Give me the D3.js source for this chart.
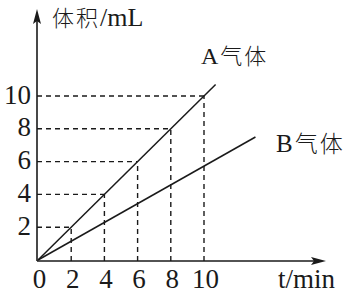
<!DOCTYPE html>
<html>
<head>
<meta charset="utf-8">
<style>
  body { margin: 0; background: #fff; }
  text { fill: #1a1a1a; }
  .num { font-family: "Liberation Serif", "DejaVu Serif", serif; font-size: 27px; }
  .lat { font-family: "Liberation Serif", "DejaVu Serif", serif; }
  .han { font-family: "Noto Sans CJK SC", sans-serif; font-weight: 300; }
</style>
<script src="https://d3js.org/d3.v7.min.js"></script>
</head>
<body>
<svg width="352" height="294"></svg>
<script>
// data
var xTicks = [0, 2, 4, 6, 8, 10];
var yTicks = [2, 4, 6, 8, 10];
var gasA = [[0, 0], [10.7, 10.7]];
var gasB = [[0, 0], [13.1, 7.5]];
var guideT = [2, 4, 6, 8, 10];   // dashed guides drop from line A

var svg = d3.select("svg");
var ink = "#1a1a1a";

var x = d3.scaleLinear().domain([0, 10]).range([38, 204]);
var y = d3.scaleLinear().domain([0, 10]).range([260, 96]);

// dashed guides
guideT.forEach(function(t) {
  svg.append("line")
    .attr("x1", 37).attr("x2", x(t))
    .attr("y1", y(t)).attr("y2", y(t))
    .attr("stroke", ink).attr("stroke-width", 1.4)
    .attr("stroke-dasharray", "5,4");
  svg.append("line")
    .attr("x1", x(t)).attr("x2", x(t))
    .attr("y1", 261).attr("y2", y(t))
    .attr("stroke", ink).attr("stroke-width", 1.4)
    .attr("stroke-dasharray", "5,4");
});

var line = d3.line().x(function(d) { return x(d[0]); }).y(function(d) { return y(d[1]); });
[gasA, gasB].forEach(function(s) {
  svg.append("path").attr("d", line(s))
    .attr("fill", "none").attr("stroke", ink).attr("stroke-width", 1.5);
});

// axes with arrows
svg.append("line").attr("x1", 37).attr("y1", 261).attr("x2", 37).attr("y2", 14)
  .attr("stroke", ink).attr("stroke-width", 1.6);
svg.append("line").attr("x1", 37).attr("y1", 261).attr("x2", 320).attr("y2", 261)
  .attr("stroke", ink).attr("stroke-width", 1.6);
svg.append("path").attr("d", "M37,9 L41,24 L37,21 L33,24 Z").attr("fill", ink);
svg.append("path").attr("d", "M326,261 L311,265 L314,261 L311,257 Z").attr("fill", ink);

// tick labels
svg.selectAll(".xl").data(xTicks).enter().append("text")
  .attr("class", "num")
  .attr("text-anchor", "middle")
  .attr("x", function(d) { return x(d) + 1.5; })
  .attr("y", 288)
  .text(function(d) { return d; });

svg.selectAll(".yl").data(yTicks).enter().append("text")
  .attr("class", "num")
  .attr("text-anchor", "end")
  .attr("x", 31)
  .attr("y", function(d) { return y(d) + 7.5; })
  .text(function(d) { return d; });

svg.append("text").attr("class", "num").attr("x", 278).attr("y", 288).text("t/min");

function label(px, py, lat, latSize, han, hanSize, after) {
  var t = svg.append("text").attr("x", px).attr("y", py);
  if (!after) t.append("tspan").attr("class", "lat").style("font-size", latSize + "px").text(lat);
  t.append("tspan").attr("class", "han").style("font-size", hanSize + "px")
    .attr("dx", after ? 0 : 2).style("letter-spacing", "2px").text(han);
  if (after) t.append("tspan").attr("class", "lat").style("font-size", latSize + "px").text(lat);
}
label(52, 26, "/mL", 26, "体积", 22, true);
label(201, 64, "A", 24, "气体", 22, false);
label(276, 152, "B", 25, "气体", 23, false);
</script>
</body>
</html>
